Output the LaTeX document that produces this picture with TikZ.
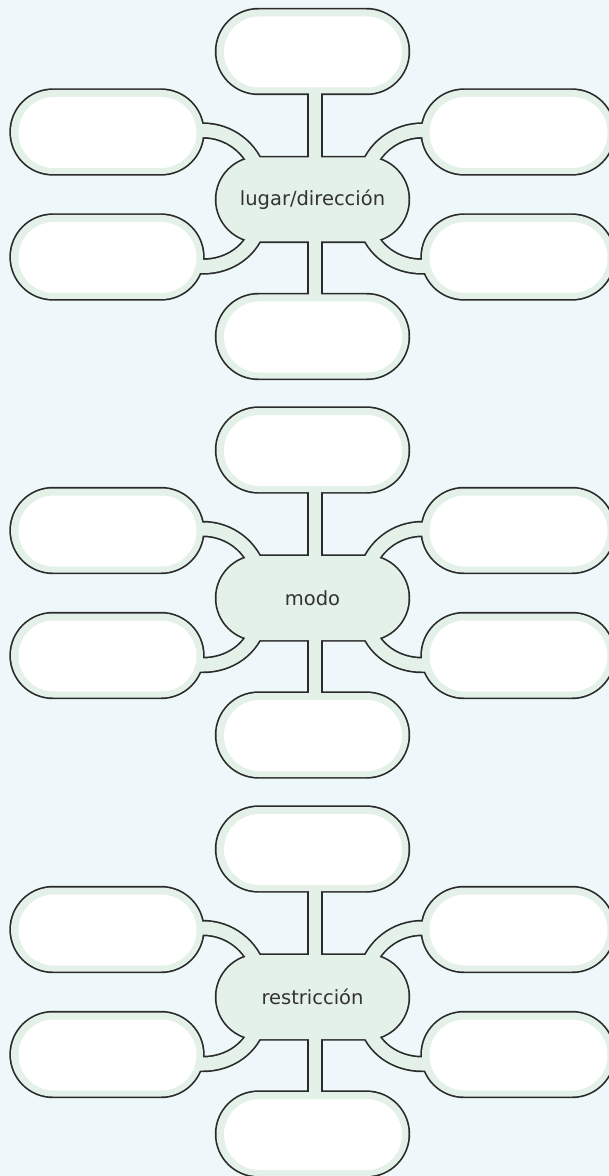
\documentclass[tikz,border=0pt]{standalone}
\usepackage{fontspec}
\setmainfont{DejaVu Sans}
\usetikzlibrary{shapes.misc,calc}
\definecolor{bgc}{HTML}{EEF7F9}
\definecolor{fillg}{HTML}{E3F1E8}
\definecolor{dk}{HTML}{2B2B2B}
\definecolor{txt}{HTML}{333333}
\tikzset{
  bx/.style={rounded rectangle, minimum width=96pt, minimum height=42pt, inner sep=0pt, outer sep=0pt},
  outl/.style={bx, draw=dk, line width=1.7pt, fill=fillg},
  fillbx/.style={bx, fill=fillg},
  innerbx/.style={rounded rectangle, minimum width=89pt, minimum height=35.5pt, inner sep=0pt, outer sep=0pt, fill=white},
  bandout/.style={draw=dk, line width=8.2pt},
  bandin/.style={draw=fillg, line width=6.5pt},
  stemout/.style={draw=dk, line width=1.7pt, fill=fillg},
  stemin/.style={fill=fillg},
  lbl/.style={font=\fontsize{9.75pt}{12pt}\selectfont, text=txt, inner sep=0pt},
}
\newcommand\mystems[2]{%
  \path[#2] ($(#1T.center)+(-3.5,0)$) rectangle ($(#1C.center)+(8.5,0)$);
  \path[#2] ($(#1C.center)+(-3.5,0)$) rectangle ($(#1B.center)+(8.5,0)$);
}
\newcommand\mybands[2]{%
  \path[#2] ($(#1LU.east)+(-14,-1.5)$) -- ($(#1LU.east)+(0,-1.5)$)
     .. controls ($(#1LU.east)+(26.25,-1.5)$) and ($(#1C.west)+(35.7,-51.35)$) .. ($(#1C.west)+(42.5,-26)$);
  \path[#2] ($(#1LL.east)+(-14,9.5)$) -- ($(#1LL.east)+(0,9.5)$)
     .. controls ($(#1LL.east)+(26.25,9.5)$) and ($(#1C.west)+(35.7,51.35)$) .. ($(#1C.west)+(42.5,26)$);
  \path[#2] ($(#1RU.west)+(14,-1.5)$) -- ($(#1RU.west)+(0,-1.5)$)
     .. controls ($(#1RU.west)+(-26.25,-1.5)$) and ($(#1C.east)+(-35.7,-51.35)$) .. ($(#1C.east)+(-42.5,-26)$);
  \path[#2] ($(#1RL.west)+(14,9.5)$) -- ($(#1RL.west)+(0,9.5)$)
     .. controls ($(#1RL.west)+(-26.25,9.5)$) and ($(#1C.east)+(-35.7,51.35)$) .. ($(#1C.east)+(-42.5,26)$);
}
\newcommand\mgroup[2]{%
  \node[outl] (#1T) at (312.5,51.5) {};
  \node[outl] (#1C) at (312.5,199.5) {};
  \node[outl] (#1B) at (312.5,336.5) {};
  \node[outl] (#1LU) at (107,132) {};
  \node[outl] (#1LL) at (107,257) {};
  \node[outl] (#1RU) at (518,132) {};
  \node[outl] (#1RL) at (518,257) {};
  \mystems{#1}{stemout}
  \mybands{#1}{bandout}
  \foreach \n in {T,C,B,LU,LL,RU,RL}{\node[fillbx] at (#1\n.center) {};}
  \mystems{#1}{stemin}
  \mybands{#1}{bandin}
  \foreach \n in {T,B,LU,LL,RU,RL}{\node[innerbx] at ($(#1\n.center)+(0.5,0.5)$) {};}
  \node[lbl] (#1L) at (#1C.center) {#2};
}
\begin{document}
\begin{tikzpicture}[x=0.5pt,y=-0.5pt]
  \useasboundingbox (0,0) rectangle (609,1176);
  \clip (0,0) rectangle (609,1176);
  \fill[bgc] (0,0) rectangle (609,1176);
  \begin{scope}
    \mgroup{ga}{lugar/dirección}
  \end{scope}
  \begin{scope}[shift={(0,398.5)}]
    \mgroup{gb}{modo}
  \end{scope}
  \begin{scope}[shift={(0,797.5)}]
    \mgroup{gc}{restricción}
  \end{scope}
\end{tikzpicture}
\end{document}
